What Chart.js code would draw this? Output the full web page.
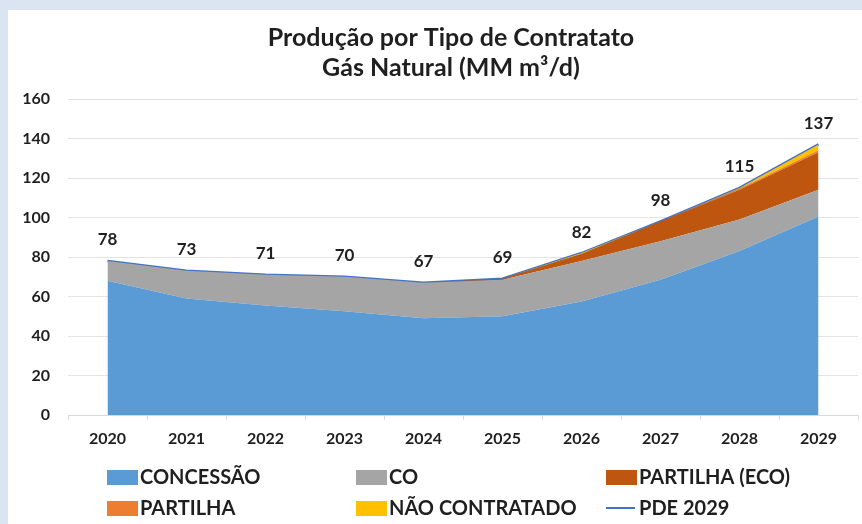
<!DOCTYPE html>
<html lang="pt">
<head>
<meta charset="utf-8">
<title>Produção por Tipo de Contratato</title>
<script src="https://cdn.jsdelivr.net/npm/chart.js@4"></script>
<style>
  html, body { margin: 0; padding: 0; }
  body { width: 862px; height: 524px; background: #dbe5f1; position: relative; overflow: hidden; }
  #card { position: absolute; left: 8px; top: 10px; width: 854px; height: 514px; background: #fff; }
  #card canvas { display: block; }
</style>
</head>
<body>
<div id="card"><canvas id="gasChart" width="854" height="514"></canvas></div>
<script>
const years = ['2020', '2021', '2022', '2023', '2024', '2025', '2026', '2027', '2028', '2029'];
const concessao = [68, 59, 55.5, 52.5, 49, 50, 57.5, 68.5, 83, 100.5];
const co = [10, 14, 15.5, 17.5, 18, 18.5, 20.5, 19.5, 16, 13.5];
const partilhaEco = [0, 0, 0, 0, 0, 0.5, 3.5, 10, 15, 19];
const partilha = [0, 0, 0, 0, 0, 0, 0, 0, 0.5, 1];
const naoContratado = [0, 0, 0, 0, 0, 0, 0.5, 0, 0.5, 3];
const pde2029 = [78, 73, 71, 70, 67, 69, 82, 98, 115, 137];

const FONT = 'Lato, "DejaVu Sans", sans-serif';
const INK = '#1f1f1f';

function area(label, data, color, fill) {
    return {
        label, data, fill,
        backgroundColor: color, borderColor: color,
        borderWidth: 0, pointRadius: 0, pointHoverRadius: 0,
        tension: 0, stack: 'tipos'
    };
}

// centre the title over the plot rather than the whole canvas
const titleOverPlot = {
    id: 'titleOverPlot',
    afterLayout(chart) {
        if (chart.titleBlock) chart.titleBlock.left += 28;
    }
};

// labels above the PDE line points
const valueLabels = {
    id: 'valueLabels',
    afterDatasetsDraw(chart) {
        const idx = chart.data.datasets.findIndex(d => d.label === 'PDE 2029');
        const meta = chart.getDatasetMeta(idx);
        const ctx = chart.ctx;
        ctx.save();
        ctx.font = 'bold 17px ' + FONT;
        ctx.fillStyle = INK;
        ctx.textAlign = 'center';
        ctx.textBaseline = 'middle';
        meta.data.forEach((pt, i) => {
            ctx.fillText(String(chart.data.datasets[idx].data[i]), pt.x, pt.y - 21);
        });
        ctx.restore();
    }
};

// legend in three fixed columns under the axis
const gridLegend = {
    id: 'gridLegend',
    afterDraw(chart) {
        const ctx = chart.ctx;
        const cols = [99, 348, 598];
        const rows = [467, 498];
        ctx.save();
        ctx.font = 'bold 20px ' + FONT;
        ctx.textBaseline = 'middle';
        chart.data.datasets.forEach((ds, i) => {
            const x = cols[i % 3];
            const y = rows[Math.floor(i / 3)];
            if (ds.stack === 'total') {
                ctx.strokeStyle = ds.borderColor;
                ctx.lineWidth = 2;
                ctx.beginPath();
                ctx.moveTo(x, y);
                ctx.lineTo(x + 29, y);
                ctx.stroke();
            } else {
                ctx.fillStyle = ds.backgroundColor;
                ctx.fillRect(x, y - 7, 31, 15);
            }
            ctx.fillStyle = INK;
            ctx.fillText(ds.label, x + 33, y + 1);
        });
        ctx.restore();
    }
};

new Chart(document.getElementById('gasChart'), {
    type: 'line',
    data: {
        labels: years,
        datasets: [
            area('CONCESSÃO', concessao, '#5b9bd5', 'origin'),
            area('CO', co, '#a5a5a5', '-1'),
            area('PARTILHA (ECO)', partilhaEco, '#be560f', '-1'),
            area('PARTILHA', partilha, '#ed7d31', '-1'),
            area('NÃO CONTRATADO', naoContratado, '#ffc000', '-1'),
            {
                label: 'PDE 2029', data: pde2029, stack: 'total', fill: false,
                borderColor: '#4472c4', backgroundColor: '#4472c4',
                borderWidth: 2.5, pointRadius: 0, tension: 0
            }
        ]
    },
    options: {
        responsive: false,
        animation: false,
        layout: { padding: { left: 8, right: 4, top: 6, bottom: 69 } },
        plugins: {
            legend: { display: false },
            tooltip: { enabled: false },
            title: {
                display: true,
                text: ['Produção por Tipo de Contratato', 'Gás Natural (MM m³/d)'],
                color: INK,
                font: { family: FONT, size: 25, weight: 'bold', lineHeight: 1.2 },
                padding: { top: 7, bottom: 16 }
            }
        },
        scales: {
            x: {
                offset: true,
                afterFit(scale) { scale.height = 40; },
                grid: { offset: true, drawOnChartArea: false, drawTicks: true, tickLength: 5, color: '#d9d9d9' },
                border: { color: '#d9d9d9' },
                ticks: { color: INK, font: { family: FONT, size: 16, weight: 'bold' }, padding: 9 }
            },
            y: {
                stacked: true,
                min: 0, max: 160,
                afterFit(scale) { scale.width = 52; },
                grid: { color: '#e3e3e3', drawTicks: false },
                border: { display: false },
                ticks: { stepSize: 20, color: INK, font: { family: FONT, size: 16, weight: 'bold' }, padding: 18 }
            }
        }
    },
    plugins: [titleOverPlot, valueLabels, gridLegend]
});
</script>
</body>
</html>
